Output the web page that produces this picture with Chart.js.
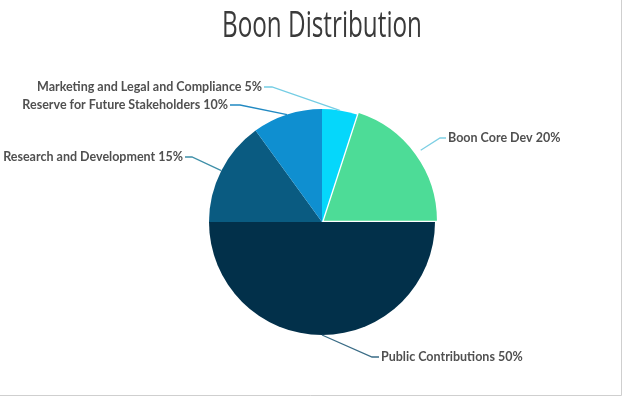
<!DOCTYPE html>
<html>
<head>
<meta charset="utf-8">
<script src="https://cdn.jsdelivr.net/npm/chart.js@4"></script>
<style>
  html, body { margin: 0; padding: 0; background: #fff; }
  #wrap { width: 624px; height: 397px; }
</style>
</head>
<body>
<div id="wrap"><canvas id="chart-boon" width="624" height="397"></canvas></div>
<script>
// data, clockwise from 12 o'clock
const categories = [
  'Marketing and Legal and Compliance',
  'Boon Core Dev',
  'Public Contributions',
  'Research and Development',
  'Reserve for Future Stakeholders',
];
const shares = [5, 20, 50, 15, 10];

const sliceColors = ['#05D7FB', '#4DDC97', '#02304A', '#0A5B81', '#0F8FD0'];
const lineColors = ['#74CDE4', '#7DCFE4', '#3A6C86', '#3E8FA8', '#2189C2'];

// label anchors relative to pie center: [elbowX, textX, y]
const labelAnchors = [
  [-50, -60, -135],
  [118, 126, -84],
  [50, 59, 135],
  [-130, -139, -65],
  [-82, -94, -117],
];

const leaderLabels = {
  id: 'leaderLabels',
  afterDatasetsDraw(chart) {
    const ctx = chart.ctx;
    const meta = chart.getDatasetMeta(0);
    ctx.save();
    meta.data.forEach((arc, i) => {
      const p = arc.getProps(['x', 'y', 'startAngle', 'endAngle', 'outerRadius'], true);
      const mid = (p.startAngle + p.endAngle) / 2;
      const off = arc.options.offset || 0;
      const ax = p.x + Math.cos(mid) * (p.outerRadius + off);
      const ay = p.y + Math.sin(mid) * (p.outerRadius + off);
      const [ex, tx, ly] = labelAnchors[i];
      const elbowX = p.x + ex, textX = p.x + tx, y = p.y + ly;
      ctx.strokeStyle = lineColors[i];
      ctx.lineWidth = 1.3;
      ctx.beginPath();
      ctx.moveTo(ax, ay);
      ctx.lineTo(elbowX, y);
      ctx.lineTo(textX + (tx < 0 ? 2 : -2), y);
      ctx.stroke();
      ctx.fillStyle = '#505050';
      ctx.font = 'bold 12.5px Lato';
      ctx.textBaseline = 'middle';
      ctx.textAlign = tx < 0 ? 'right' : 'left';
      ctx.fillText(categories[i] + ' ' + shares[i] + '%', textX, y);
    });
    ctx.restore();
  },
  afterDraw(chart) {
    const ctx = chart.ctx;
    const title = 'Boon Distribution';
    ctx.save();
    // title: condensed look, squeeze to ~200px wide
    ctx.fillStyle = '#3a3a3a';
    ctx.font = '36px "Open Sans"';
    ctx.textAlign = 'center';
    ctx.textBaseline = 'alphabetic';
    const w = ctx.measureText(title).width;
    ctx.translate(322, 37);
    ctx.scale(200 / w, 1);
    ctx.fillText(title, 0, 0);
    ctx.restore();
    // frame edges
    ctx.save();
    ctx.strokeStyle = '#cfcfcf';
    ctx.lineWidth = 1;
    ctx.beginPath();
    ctx.moveTo(621.5, 0);
    ctx.lineTo(621.5, 395.5);
    ctx.lineTo(0, 395.5);
    ctx.stroke();
    ctx.restore();
  },
};

new Chart(document.getElementById('chart-boon'), {
  type: 'pie',
  data: {
    labels: categories,
    datasets: [{
      data: shares,
      backgroundColor: sliceColors,
      borderWidth: 0,
      offset: [0, 9, 0, 0, 0],
    }],
  },
  options: {
    responsive: false,
    animation: false,
    radius: 113,
    layout: { padding: { left: 20, top: 47, right: 0, bottom: 0 } },
    plugins: {
      legend: { display: false },
      tooltip: { enabled: false },
    },
  },
  plugins: [leaderLabels],
});
</script>
</body>
</html>
